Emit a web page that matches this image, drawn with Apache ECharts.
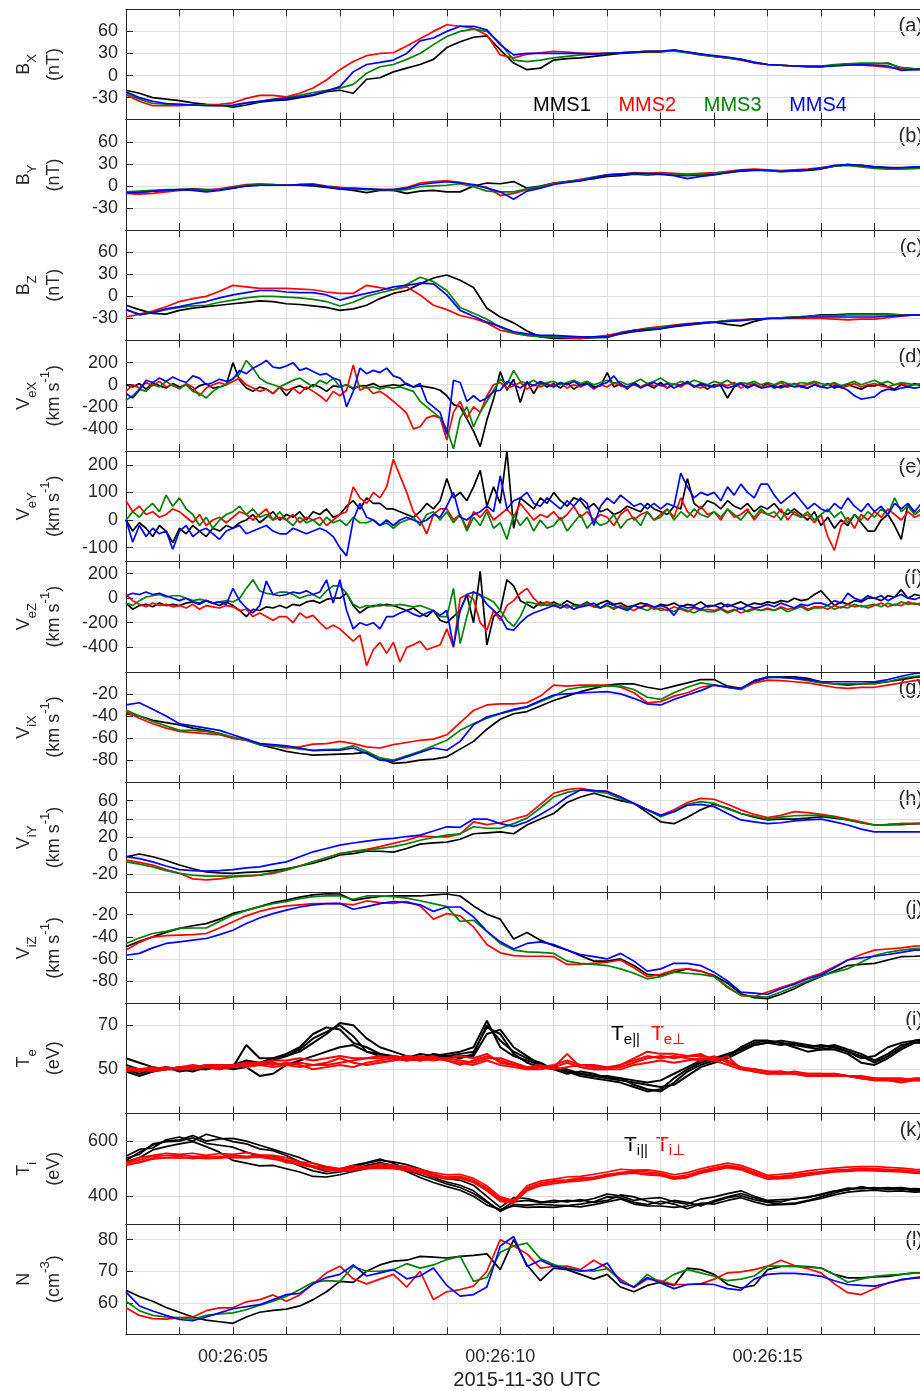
<!DOCTYPE html>
<html>
<head>
<meta charset="utf-8">
<script src="https://cdn.jsdelivr.net/npm/echarts@6/dist/echarts.min.js"></script>
<style>
html,body{margin:0;padding:0;background:#fff}
#chart{width:920px;height:1391px}
</style>
</head>
<body>
<div id="chart"></div>
<script>
// ---- time base (seconds after 00:26:00 UTC) ----
const T_START = 3;
const STEP_COARSE = 0.25;   // B, Vi, T, N panels
const STEP_FINE = 0.125;    // electron velocity panels
const timeTickLabels = [5, 10, 15];

// ---- tick values per panel ----
const bTicks = [-30, 0, 30, 60];
const vexTicks = [-400, -200, 0, 200];
const veyTicks = [-100, 0, 100, 200];
const vezTicks = [-400, -200, 0, 200];
const vixTicks = [-80, -60, -40, -20];
const viyTicks = [-20, 0, 20, 40, 60];
const vizTicks = [-80, -60, -40, -20];
const teTicks = [50, 70];
const tiTicks = [400, 600];
const nTicks = [60, 70, 80];

// ---- magnetic field (nT), 0.25 s ----
const bxMms1 = [-20,-24,-30,-32, -34,-37,-39,-40, -43,-40,-36,-34, -33,-30,-27,-22, -20,-24,-5,-3, 5,10,15,22, 38,46,52,54, 35,17,8,10, 21,23,24,26, 28,30,31,32, 32,34,32,29, 26,24,22,18, 15,14,13,12, 12,14,16,16, 16,17,10,9, 9];
const bxMms2 = [-26,-35,-41,-41, -41,-40,-40,-39, -37,-31,-27,-27, -29,-24,-17,-6, 8,19,27,30, 31,40,50,60, 69,67,64,55, 28,24,29,31, 33,32,30,30, 30,31,32,33, 33,34,31,28, 26,24,21,17, 15,14,13,13, 12,14,14,14, 13,11,9,8, 8];
const bxMms3 = [-24,-32,-38,-39, -39,-40,-40,-41, -41,-37,-35,-32, -30,-27,-23,-20, -17,-12,3,12, 15,22,30,42, 53,60,63,60, 44,21,19,21, 24,26,28,29, 30,31,32,33, 33,33,31,28, 26,24,22,18, 15,14,13,13, 13,15,16,17, 17,16,11,9, 9];
const bxMms4 = [-22,-30,-35,-38, -39,-40,-41,-41, -40,-37,-35,-33, -31,-29,-26,-21, -15,5,15,18, 21,30,47,51, 60,67,67,62, 42,28,30,30, 30,30,30,29, 30,31,32,33, 33,35,32,29, 27,25,22,18, 15,14,13,12, 12,13,14,15, 14,13,7,8, 9];

const byMms1 = [-8,-8,-7,-6, -5,-4,-5,-5, -3,0,1,1, 1,1,0,-2, -4,-6,-9,-6, -6,-10,-7,-6, -8,-8,0,4, 3,6,-3,0, 4,6,8,10, 13,14,16,15, 16,15,14,15, 16,18,20,21, 21,20,20,21, 23,27,29,28, 26,25,24,25, 25];
const byMms2 = [-10,-11,-10,-8, -6,-5,-6,-4, -1,2,3,2, 1,2,3,0, -2,-4,-4,-5, -5,-2,4,6, 7,5,1,-2, -13,-10,-5,-1, 4,6,9,12, 15,16,18,17, 18,17,16,17, 18,20,22,23, 22,21,22,23, 25,27,29,28, 25,24,24,24, 24];
const byMms3 = [-8,-7,-6,-5, -5,-5,-6,-5, -2,1,2,2, 1,2,2,-1, -3,-4,-5,-5, -6,-5,-1,0, 1,3,-1,-7, -8,-8,-4,-1, 3,6,8,12, 15,16,17,16, 17,16,15,16, 17,19,21,22, 21,19,20,22, 24,27,28,26, 24,23,23,24, 25];
const byMms4 = [-9,-9,-7,-6, -5,-6,-8,-6, -3,0,1,1, 1,2,2,-1, -4,-3,-4,-5, -5,-3,2,4, 6,4,2,-3, -8,-18,-7,-3, 2,5,7,11, 15,16,17,17, 16,14,10,13, 15,18,21,22, 21,20,21,22, 24,28,29,28, 26,25,25,26, 26];

const bzMms1 = [-12,-18,-23,-24, -19,-16,-14,-12, -10,-8,-6,-7, -10,-11,-13,-15, -19,-17,-12,-3, 4,8,17,25, 29,22,12,-16, -28,-36,-47,-55, -57,-57,-57,-56, -55,-51,-48,-46, -44,-41,-39,-37, -35,-38,-40,-34, -30,-29,-28,-27, -25,-25,-24,-24, -24,-24,-25,-25, -25];
const bzMms2 = [-28,-24,-20,-14, -7,-3,0,7, 15,13,11,11, 11,10,9,6, 4,4,15,12, 9,13,2,-12, -18,-26,-30,-36, -46,-50,-53,-54, -55,-56,-57,-55, -53,-49,-46,-43, -41,-39,-37,-36, -35,-33,-32,-31, -30,-30,-30,-30, -30,-31,-32,-31, -31,-29,-27,-25, -25];
const bzMms3 = [-18,-24,-22,-18, -15,-13,-12,-8, -5,-2,0,0, -1,-2,-4,-7, -13,-8,0,5, 9,16,26,20, 8,-15,-23,-31, -42,-50,-53,-55, -55,-55,-55,-56, -56,-50,-46,-44, -42,-40,-38,-36, -35,-33,-32,-31, -30,-29,-28,-27, -26,-26,-25,-25, -25,-25,-25,-25, -25];
const bzMms4 = [-18,-25,-22,-17, -14,-10,-7,-2, 2,5,8,8, 6,5,5,2, -5,0,4,8, 13,15,18,17, 2,-19,-27,-35, -41,-48,-51,-53, -53,-54,-55,-55, -55,-50,-46,-45, -44,-40,-38,-36, -35,-34,-33,-31, -30,-30,-29,-28, -28,-28,-28,-28, -28,-27,-26,-25, -25];

// ---- electron bulk velocity (km/s), 0.125 s ----
const vexMms1 = [0,-20,10,-40,20,-10,-30,10, -20,0,-50,-10,10,-30,-20,0, 200,40,-30,-60,-20,-40,-80,-20, -100,-30,-10,-40,0,-20,-60,-10, -20,0,-40,-10,-10,10,-20,-10, 0,-10,10,-20,-10,-20,-30,-50, -100,-180,-200,-310,-420,-560,-320,-130, 120,-50,50,-160,30,-80,20,-20, 10,-30,20,-40,0,30,-20,-10, 110,-20,10,-40,20,-20,0,-30, 20,-30,10,-10,30,-20,0,-40, 0,-10,-120,-20,10,-30,0,-20, 10,-30,-10,-20,10,-20,-30,0, -20,10,-30,-10,0,-20,-40,-10, -10,10,-20,-40,0,-20,10,-10, 0];
const vexMms2 = [-60,0,-30,20,-10,30,-20,0, -40,10,-20,-100,-30,0,20,0, 30,60,0,-30,-60,-40,-80,-20, -50,-30,-80,-20,-60,-100,-150,-60, -100,-50,180,-50,-20,-80,-60,-100, -150,-200,-260,-400,-380,-300,-280,-300, -500,-250,-150,-300,-200,-250,-100,0, 20,-30,-10,20,-40,0,-20,10, -10,20,-30,0,-20,10,-40,0, -20,20,-10,-30,0,-20,10,-10, 0,-30,10,-20,20,-10,-30,0, -20,10,-10,20,-30,0,10,-20, 0,-10,20,-20,10,-10,0,20, -20,0,10,-30,-10,10,-20,0, 10,-10,-20,0,10,-10,0,10, 0];
const vexMms3 = [-140,-100,-40,-60,0,-20,30,-10, -30,0,-60,-80,-120,-60,-20,0, 60,100,220,150,60,20,0,-20, 10,40,60,20,-20,40,10,60, -20,0,-30,-10,-30,-20,-40,-20, -30,-20,-40,-60,-150,-200,-250,-300, -400,-580,-300,-200,-380,-250,-150,-50, 50,0,130,30,10,40,0,20, 30,0,20,40,10,30,0,20, 40,10,30,0,20,50,10,30, 60,20,0,30,10,40,20,0, 30,10,40,0,20,10,30,0, 20,0,30,10,0,20,10,30, 10,0,20,-10,10,30,0,20, 40,10,30,0,20,10,0,10, 10];
const vexMms4 = [-80,-120,-50,40,20,60,30,70, 40,20,80,60,0,20,50,30, 50,130,100,150,180,220,160,150, 170,200,130,150,120,90,100,60, 40,-200,-60,150,100,130,110,150, 80,60,0,-20,10,-150,-200,-250, -450,40,20,-150,-100,-150,-120,-60, -50,30,0,-30,20,-10,30,0, -20,20,0,30,-10,10,-30,0, 20,80,0,-20,10,-30,0,20, -10,10,-30,0,20,-20,10,-10, -20,0,-30,-10,10,-20,0,-30, -20,-10,-30,0,-20,-10,-30,0, -20,-30,-10,-20,-50,-100,-130,-120, -110,-60,-40,-50,-30,-20,-30,-20, -20];

const veyMms1 = [0,-40,-10,-30,-60,-20,-40,-82, -30,-50,-20,-40,-60,-30,-40,-20, -30,-10,0,20,-10,10,30,0, 20,10,30,0,30,20,40,10, 20,50,70,40,80,60,60,40, 40,30,20,10,30,60,40,70, 150,80,100,70,120,180,50,120, 60,250,-30,80,60,40,80,60, 100,70,50,80,70,40,60,30, 40,20,30,50,40,30,60,40, 30,20,50,40,150,60,40,70, 60,40,70,50,40,60,30,50, 40,60,30,20,40,20,0,30, -20,10,-30,0,-20,20,-10,-40, -40,0,20,-20,-70,60,20,40, 20];
const veyMms2 = [70,30,50,20,30,10,20,40, 30,10,-10,20,-20,0,10,-10, 10,30,20,0,20,40,0,10, 0,20,-10,10,0,10,-20,0, 20,30,120,80,60,100,80,120, 220,160,100,30,0,-50,20,40, 40,0,20,-30,30,10,40,0, 20,40,10,60,30,0,20,10, 30,0,20,50,10,30,0,20, 10,-20,20,40,0,20,30,0, 20,40,10,80,30,10,50,20, 30,0,40,10,20,40,0,30, 20,10,40,0,30,10,20,-10, 20,-60,-110,-20,10,-30,20,0, 30,10,40,20,0,30,10,20, 20];
const veyMms3 = [0,30,10,40,60,30,90,50, 80,40,20,-20,10,-30,0,20, 30,50,20,40,10,20,0,30, 0,-20,10,-10,0,-20,10,-10, 0,-20,10,-10,-10,0,-20,-10, -30,-10,0,10,-20,20,30,0, 30,-10,20,-40,10,-20,30,-30, -10,-70,20,-20,10,-40,0,-30, -20,10,-40,-10,20,-30,0,-20, -10,20,-30,0,10,-20,30,0, 10,40,0,30,10,40,20,10, 30,10,40,20,0,30,10,40, 20,30,0,40,20,10,30,0, 20,40,10,30,-10,20,0,30, 10,40,20,80,30,50,20,40, 30];
const veyMms4 = [0,-80,-20,-60,-30,-50,-40,-106, -40,-20,-60,-40,-30,-50,-70,-40, -30,-20,-50,-40,-30,-20,-40,-50, -50,-30,-40,-50,-40,-30,-40,-60, -100,-130,0,60,10,0,-20,0, -20,0,10,0,-10,0,20,10, 50,100,10,0,20,30,50,30, 160,40,70,80,100,60,50,80, 60,40,70,50,80,60,-20,50, 80,60,90,70,50,60,40,60, 40,60,50,170,120,80,100,90, 100,70,120,90,130,100,80,130, 130,90,60,80,100,70,40,60, 40,30,60,40,80,50,30,60, 30,50,20,60,40,60,30,60, 60];

const vezMms1 = [-40,-90,-60,-50,-70,-40,-60,-50, -60,-40,-30,-50,-20,-40,-60,-30, -60,-100,-150,-90,-100,-70,-80,-60, -80,-50,-60,-30,-20,-40,-10,0, 0,40,-60,-120,-80,-60,-60,-50, -60,-80,-100,-80,-120,-150,-100,-180, -200,-150,-100,30,-200,220,-380,-150, -100,150,100,-20,-50,-80,-30,-60, -30,-60,-20,-50,-60,-30,-70,-40, -20,-50,-40,-70,-60,-40,-50,-80, -50,-60,-40,-70,-50,-60,-30,-70, -60,-40,-70,-50,-30,-60,-40,-50, -30,-40,-20,-30,0,-20,-10,30, 60,0,-60,-30,-50,-20,-30,0, 0,-20,20,10,70,0,30,20, 20];
const vezMms2 = [30,-20,-50,-70,-40,-60,-50,-70, -60,-80,-50,-90,-60,-70,-80,-60, -70,-100,-90,-150,-120,-150,-180,-150, -150,-200,-120,-160,-140,-200,-250,-220, -250,-300,-350,-300,-550,-420,-360,-450, -360,-520,-400,-380,-350,-420,-400,-380, -250,-400,0,30,-10,-200,-260,-100, -180,-60,-20,40,80,0,-50,-30, -50,-80,-60,-90,-60,-50,-70,-80, -60,-90,-60,-80,-100,-70,-60,-90, -80,-100,-70,-90,-110,-80,-100,-90, -100,-80,-110,-90,-120,-100,-80,-100, -80,-100,-70,-90,-80,-60,-90,-70, -70,-90,-60,-80,-50,-70,-60,-80, -60,-40,-70,-50,-60,-30,-50,-40, -40];
const vezMms3 = [-40,-60,-20,10,20,30,10,20, 20,0,-20,-10,-20,-40,-30,-20, -30,0,80,150,60,40,30,50, 50,30,0,20,30,0,60,100, 100,40,-50,-80,-60,-70,-50,-60, -60,-50,-60,-70,-60,-80,-100,-150, -150,80,-370,-150,50,20,0,-30, -100,-180,-230,-150,-30,-40,-60,-50, -60,-50,-80,-60,-70,-40,-60,-80, -60,-80,-70,-90,-60,-80,-100,-70, -100,-90,-110,-80,-100,-120,-90,-110, -110,-90,-120,-100,-80,-110,-90,-100, -90,-100,-80,-110,-90,-70,-100,-80, -80,-60,-90,-70,-80,-50,-70,-60, -50,-70,-40,-60,-30,-50,-40,-60, -40];
const vezMms4 = [20,40,30,50,30,40,20,0, -20,0,-30,-40,-20,-40,-30,-50, 80,-20,-80,-120,-60,140,30,20, 30,50,40,60,30,50,150,-40, 150,-100,-250,-200,-220,-200,-250,-150, -150,-120,-100,-130,-150,-120,-100,-140, -100,-395,-100,30,50,30,-50,-100, -150,-250,-260,-200,-150,-120,-100,-80, -60,-80,-50,-90,-70,-60,-40,-80, -40,-60,-80,-100,-60,-80,-50,-70, -60,-80,-140,-60,-80,-70,-90,-60, -60,-80,-50,-70,-90,-60,-80,-70, -50,-70,-40,-60,-80,-50,-60,-40, -40,-60,-20,-40,40,0,-20,20, 0,20,-20,10,30,0,-10,10, 0];

// ---- ion bulk velocity (km/s), 0.25 s ----
const vixMms1 = [-38,-40,-44,-46, -48,-51,-53,-56, -60,-62,-66,-69, -72,-74,-75.5,-75, -74.5,-74,-73,-78, -83,-82,-80,-79, -77,-70,-63,-52, -43,-38,-36,-31, -26,-22,-18,-15, -12,-11,-11,-14, -16,-13,-10,-7, -7,-13,-15,-9, -5,-4.5,-4.5,-6, -9,-11,-12,-11, -10,-9,-7,-5, -4];
const vixMms2 = [-36,-42,-47,-51, -54,-55,-56,-57, -60,-62,-65,-67, -69,-68,-65.5,-65, -63,-65,-68,-69, -66,-64,-62,-61, -57,-46,-35,-30, -29,-29,-28,-22, -12,-13,-12,-12, -12,-14,-19,-28, -27,-22,-19,-14, -12,-14,-16,-10, -7.5,-8,-9,-10, -12,-14,-15,-14, -14,-12,-10,-8, -7];
const vixMms3 = [-34.5,-40,-45,-49, -53,-53,-54,-56, -59,-62,-66,-67, -68,-70,-71,-70.5, -70,-67,-72,-78, -80,-76,-72,-67, -62,-53,-47,-42, -38,-35,-32,-27, -22,-16,-14,-13, -13,-13,-16,-23, -25,-19,-14,-10, -11.7,-14,-16,-8, -4.5,-5,-6,-8, -10,-11,-11,-11, -11,-9,-6,-4, -3];
const vixMms4 = [-30,-28,-34,-40, -47,-49,-51,-53, -57,-61,-65,-66, -67,-69,-71.5,-71, -71,-69,-74,-80, -81,-77,-73,-69, -71,-63,-48,-41, -37.6,-34,-31.5,-26, -21,-20,-19,-18.5, -18,-20,-24,-29, -30,-25,-21,-17, -12,-14,-15,-8, -5,-5,-6,-7, -9,-9,-9,-9, -9,-7,-4,-1.5, -1];

const viyMms1 = [-1,2,-1,-5, -10,-14,-17.5,-18.5, -19,-18,-17.5,-16, -14,-11,-8,-4, 1,2.5,5,5, 4,8,12.7,14, 15,18,24,25, 26,24,33.5,40, 46,58,64,68, 64,60,57,47, 37,35,42,50, 56,52,46,42, 39,40,40,41, 42.5,41,39,36, 33.5,34,34,35, 35];
const viyMms2 = [-4.7,-7,-10,-15, -19,-25,-26,-25, -23,-22,-21,-19, -15.6,-11,-6.5,-2, 2.5,5,7,10, 13.5,17,21.5,21, 20.7,23.6,37,34, 36,40,44,56, 68,72,73.5,71, 70,64,57,50, 44,50,58,62.5, 61.5,56,50,45, 41.5,44,48,47, 45,43,40,37, 33.5,34,35,35, 35];
const viyMms3 = [-6.5,-9,-12,-16, -19,-21,-22,-22, -22,-21.5,-21,-18, -15,-11,-6.5,-2, 2.5,4.5,6,8, 10,13,17,20, 22.5,24,31.6,30, 30,35,41,52, 64,69,71.6,70, 68,62,57,50, 42.5,48,56,59, 57,51,46,43, 40,42,43.6,44, 44,42,39,36, 33.5,34,35,35, 36];
const viyMms4 = [-1,-3,-6.5,-11, -15,-16,-16.7,-16, -15,-13,-12,-9, -6.5,-1,4.4,8, 11.6,14,16,18, 19,21,22.5,27, 31.6,31,40,40, 35,32,37,45, 53.5,64,71.6,71, 70,64,57,50, 44,48,55,56, 53.5,46,39,37, 35,36,38,39, 40,37,33.5,29, 26,26,26,26, 26];

const vizMms1 = [-49,-44,-40,-36, -32.4,-30,-28,-24, -18.8,-16,-12.7,-9, -6.7,-4,-2,-1, -1.2,-7,-5,-3.5, -3,-3,-3,-2, -1.2,-3,-12,-19.5, -24,-42,-36,-43, -48,-52,-57,-62, -62,-60,-66,-74, -75,-72,-69,-71, -75,-82,-91.5,-95, -96,-92,-87,-81, -76,-71,-66,-65, -64,-61,-58,-57.6, -57];
const vizMms2 = [-52,-45,-40,-39, -38.5,-38,-37,-32, -26.4,-21,-17,-14, -12,-11,-10,-10, -10,-11,-7.5,-9, -9.7,-8,-12,-24, -19,-21,-31,-47, -54.5,-57,-57.6,-57.6, -58,-65,-65,-64, -63,-61,-68,-76, -74,-70,-69,-71, -76,-86,-93,-94, -90,-86,-82,-77, -73,-67,-61,-56, -52,-51,-50,-48.5, -48];
const vizMms3 = [-46,-41,-37,-35, -32.4,-32,-32,-26, -20.3,-16,-12.7,-10, -8,-5.5,-3.6,-3, -3,-6,-3,-3, -3.6,-5,-7.3,-10, -12.7,-26,-25,-35, -46,-52,-53.6,-54, -55,-62,-64,-65, -66,-69,-73,-78, -76,-72,-73,-74, -76,-85,-93,-94, -94.5,-90,-85,-80, -75.5,-72,-69,-63, -57,-54,-52,-50.6, -50];
const vizMms4 = [-56.7,-55,-50,-46, -44.5,-43,-41.5,-38, -34,-28,-23,-19, -15.8,-13,-11,-10, -9.7,-15,-12.7,-10, -8,-9,-11,-17, -13,-13,-22,-35, -44.5,-51,-46,-44.5, -47,-52,-56,-58, -60,-55,-62,-71, -69,-64,-64,-66, -72,-80,-90,-91, -92,-87,-83,-78, -74.5,-68,-61,-59, -57.6,-56,-54,-52, -52];

// ---- electron temperature (eV), 0.25 s: parallel and perpendicular, MMS1-4 ----
const teParMms1 = [55,53,51,50, 51,50,52,51, 52,54,53,55, 56,58,62,66, 71,70,64,60, 58,56,55,56, 57,58,60,72, 60,56,54,52, 51,49,48,47, 47,46,45,44, 45,48,51,54, 55,56,59,62, 63,62,61,60, 61,60,58,55, 56,60,62,63, 64];
const teParMms2 = [52,50,49,50, 50,51,50,52, 51,61,55,55, 57,60,66,69, 68,62,60,57, 56,55,57,56, 56,55,57,70, 63,58,55,53, 50,48,49,48, 46,45,44,43, 42,43,47,51, 53,55,58,61, 62,61,62,61, 60,61,59,57, 54,57,61,62, 62];
const teParMms3 = [50,48,50,51, 50,49,51,50, 52,53,52,54, 56,59,64,67, 70,65,58,56, 55,54,55,57, 56,57,58,69, 66,57,53,51, 50,50,48,47, 46,46,43,41, 40,44,49,52, 54,56,60,63, 63,62,60,58, 59,59,57,53, 52,55,59,62, 63];
const teParMms4 = [49,47,49,51, 49,50,50,51, 50,51,47,48, 52,54,56,58, 60,61,58,57, 55,55,54,55, 55,56,56,66, 68,60,56,52, 51,49,47,46, 45,44,42,40, 41,46,50,53, 55,57,59,61, 62,63,62,60, 59,60,58,56, 53,56,60,63, 63];
const tePerpMms1 = [50,50,51,50, 51,51,52,52, 52,53,53,54, 54,55,54,55, 56,55,55,55, 56,55,56,55, 55,56,55,57, 53,52,50,50, 51,57,51,50, 50,52,55,58, 57,57,56,57, 54,56,50,49, 48,48,48,47, 47,47,47,46, 45,45,45,45, 45];
const tePerpMms2 = [49,50,50,51, 50,51,51,52, 51,52,52,53, 52,53,52,52, 53,54,55,56, 55,56,55,54, 55,54,53,55, 55,53,51,51, 52,54,52,51, 51,51,53,55, 56,55,56,56, 55,54,51,50, 49,49,48,48, 48,47,47,47, 46,46,46,45, 45];
const tePerpMms3 = [50,49,50,50, 50,50,51,51, 52,51,52,51, 52,51,52,53, 55,53,52,53, 54,55,54,55, 54,53,52,54, 52,51,50,51, 51,53,51,50, 50,50,52,53, 54,53,54,55, 54,52,50,50, 49,48,49,48, 48,48,47,46, 45,45,44,45, 45];
const tePerpMms4 = [51,50,49,50, 51,52,51,50, 51,52,53,52, 53,52,50,51, 52,51,53,54, 55,54,55,56, 54,52,54,56, 54,52,51,52, 50,51,52,52, 51,52,54,56, 55,56,55,54, 56,53,51,49, 48,49,48,47, 47,48,47,46, 46,45,45,46, 46];

// ---- ion temperature (eV), 0.25 s ----
const tiParMms1 = [530,560,585,600, 605,620,600,608, 610,600,585,570, 555,540,520,505, 495,505,520,530, 525,515,500,480, 465,458,440,400, 360,395,392,380, 378,385,382,392, 408,402,385,392, 395,380,372,390, 398,410,420,400, 385,388,390,398, 405,418,430,428, 432,425,428,420, 425];
const tiParMms2 = [545,570,575,605, 615,600,625,612, 598,590,572,565, 548,525,505,490, 500,512,522,535, 520,500,488,468, 452,440,420,382, 345,370,368,372, 368,366,372,380, 398,395,378,370, 382,372,355,372, 380,395,402,388, 378,372,375,385, 398,412,425,430, 428,432,425,428, 426];
const tiParMms3 = [538,552,590,598, 600,612,592,585, 578,560,545,545, 530,510,492,482, 488,495,512,522, 512,495,478,462, 445,432,410,378, 350,380,385,378, 385,380,388,378, 385,405,398,382, 372,385,378,365, 385,398,410,395, 382,380,392,395, 408,420,422,435, 425,430,432,425, 428];
const tiParMms4 = [525,540,568,580, 590,598,580,560, 530,520,510,512, 500,488,472,470, 478,490,500,512, 508,490,468,450, 435,422,400,368, 352,365,360,362, 360,365,362,370, 380,390,372,365, 365,360,365,375, 372,385,395,380, 368,370,372,382, 392,405,415,420, 422,418,420,415, 418];
const tiPerpMms1 = [522,540,548,556, 552,556,548,555, 552,558,550,548, 540,525,520,508, 500,510,508,518, 512,508,498,486, 478,480,465,438, 398,385,438,455, 462,470,472,480, 488,498,495,496, 490,478,486,500, 510,520,512,495, 476,480,484,492, 498,502,506,508, 508,505,502,498, 496];
const tiPerpMms2 = [512,525,538,540, 538,540,536,538, 542,540,542,535, 526,514,506,495, 490,495,500,502, 500,494,485,472, 462,465,450,420, 382,376,420,438, 446,452,456,462, 472,480,484,478, 475,462,468,484, 494,504,496,478, 462,464,468,476, 482,488,490,494, 492,490,488,484, 482];
const tiPerpMms3 = [520,532,545,548, 550,545,546,542, 548,545,548,542, 532,522,510,502, 498,500,506,510, 508,502,492,480, 470,472,458,430, 392,382,430,448, 456,460,466,470, 480,486,492,488, 484,470,478,492, 503,512,505,488, 470,472,478,484, 490,495,498,502, 500,498,495,492, 490];
const tiPerpMms4 = [515,522,535,540, 545,536,542,545, 540,540,544,540, 522,518,508,498, 495,498,502,505, 504,500,488,478, 466,468,452,425, 388,378,425,442, 452,455,462,465, 476,484,486,482, 480,466,472,488, 498,508,500,483, 468,468,474,480, 486,492,495,496, 496,494,492,486, 485];

// ---- ion density (cm^-3), 0.25 s ----
const nMms1 = [64,62,60.5,58.5, 57,55.5,54.5,54, 53.5,55.5,57,57.6, 58,59,61,63.5, 66.8,66.5,70,72, 73.2,73.5,74.7,74.5, 74.2,74.7,75,75.5, 70.5,80,72,67, 71,70.5,69,67.5, 69,65,63.5,65.5, 66.5,65.5,71,70.5, 69,65.8,64.7,65.5, 70.5,71.5,71.6,71.5, 71,69,67.9,67.9, 68.2,68.4,69,69.5, 69.5];
const nMms2 = [58.4,56,55,54.8, 55.3,55.5,57.5,58.4, 58.4,60.3,61,62.5, 60.5,62.5,66,69.5, 71.6,67.6,66,67.5, 69,65,70,61, 63.5,64.2,65.3,70, 80,78,75.5,71, 71.5,71.6,70.5,73.5, 71,67.5,64.8,67.5, 67,65.8,65.8,66, 67.5,69.5,69.8,70.5, 71.6,73.5,71.8,70.8, 69.5,66,63.2,62.6, 64.5,66.3,67.2,68, 68.5];
const nMms3 = [60.5,57.5,56,55.5, 55.3,54.8,56,56.5, 56.8,57.8,59.2,60.5, 62,64.2,66.5,67, 66.8,71.5,70,70, 70.5,72.4,71,72, 73.7,74.7,66.8,68, 76,78,78.9,74, 72.1,71,70.3,70, 70.8,67,65,69, 66.3,69,70.5,69.5, 68.4,67,67.5,68.5, 71.6,71.6,71.6,71.3, 71,69,66.5,67.5, 68.4,68.8,69,69.5, 69.5];
const nMms4 = [63.4,59,57.4,56, 54.7,54.3,55.5,56.8, 58.1,58.8,59.4,61, 62.6,63,66,68, 69,72,68.5,69.5, 70.5,67.6,68.5,71, 65.5,62.1,62.6,65, 78,81,71.5,73.5, 71.6,70.8,70,70.5, 72.6,66.5,65,68, 66.3,64.5,65.8,66, 65.8,64.5,64,67.5, 69,69.3,69.3,69, 68.4,67,65.8,65.5, 65.3,66.2,67.4,67.8, 68];

// ---- drawing ----
const FONT = '"Liberation Sans", Arial, Helvetica, sans-serif';
const INK = '#262626';
const GRID_LINE = '#dedede';
const C1 = '#000000', C2 = '#ff0000', C3 = '#008000', C4 = '#0000ff';
const LEFT = 126, PLOT_W = 802, TOP0 = 9.3, PANEL_H = 110.42;

const mms = (a, b, c, d) => [
  { name: 'MMS1', values: a, color: C1 },
  { name: 'MMS2', values: b, color: C2 },
  { name: 'MMS3', values: c, color: C3 },
  { name: 'MMS4', values: d, color: C4 }
];
const temps = (par, perp, label) => [
  ...par.map((v, k) => ({ name: label + '∥ MMS' + (k + 1), values: v, color: C1 })),
  ...perp.map((v, k) => ({ name: label + '⊥ MMS' + (k + 1), values: v, color: C2 }))
];

const panels = [
  { tag: '(a)', label: '{m|B}{s|X}\n{m|(nT)}', min: -60, max: 90, ticks: bTicks, step: STEP_COARSE, lines: mms(bxMms1, bxMms2, bxMms3, bxMms4) },
  { tag: '(b)', label: '{m|B}{s|Y}\n{m|(nT)}', min: -60, max: 90, ticks: bTicks, step: STEP_COARSE, lines: mms(byMms1, byMms2, byMms3, byMms4) },
  { tag: '(c)', label: '{m|B}{s|Z}\n{m|(nT)}', min: -60, max: 90, ticks: bTicks, step: STEP_COARSE, lines: mms(bzMms1, bzMms2, bzMms3, bzMms4) },
  { tag: '(d)', label: '{m|V}{s|eX}\n{m|(km s}{p|-1}{m|)}', min: -600, max: 400, ticks: vexTicks, step: STEP_FINE, lines: mms(vexMms1, vexMms2, vexMms3, vexMms4) },
  { tag: '(e)', label: '{m|V}{s|eY}\n{m|(km s}{p|-1}{m|)}', min: -150, max: 250, ticks: veyTicks, step: STEP_FINE, lines: mms(veyMms1, veyMms2, veyMms3, veyMms4) },
  { tag: '(f)', label: '{m|V}{s|eZ}\n{m|(km s}{p|-1}{m|)}', min: -600, max: 300, ticks: vezTicks, step: STEP_FINE, lines: mms(vezMms1, vezMms2, vezMms3, vezMms4) },
  { tag: '(g)', label: '{m|V}{s|iX}\n{m|(km s}{p|-1}{m|)}', min: -100, max: 0, ticks: vixTicks, step: STEP_COARSE, lines: mms(vixMms1, vixMms2, vixMms3, vixMms4) },
  { tag: '(h)', label: '{m|V}{s|iY}\n{m|(km s}{p|-1}{m|)}', min: -40, max: 80, ticks: viyTicks, step: STEP_COARSE, lines: mms(viyMms1, viyMms2, viyMms3, viyMms4) },
  { tag: '(j)', label: '{m|V}{s|iZ}\n{m|(km s}{p|-1}{m|)}', min: -100, max: 0, ticks: vizTicks, step: STEP_COARSE, lines: mms(vizMms1, vizMms2, vizMms3, vizMms4) },
  { tag: '(i)', label: '{m|T}{s|e}\n{m|(eV)}', min: 30, max: 80, ticks: teTicks, step: STEP_COARSE, width: 2,
    lines: temps([teParMms1, teParMms2, teParMms3, teParMms4], [tePerpMms1, tePerpMms2, tePerpMms3, tePerpMms4], 'Te') },
  { tag: '(k)', label: '{m|T}{s|i}\n{m|(eV)}', min: 300, max: 700, ticks: tiTicks, step: STEP_COARSE,
    lines: temps([tiParMms1, tiParMms2, tiParMms3, tiParMms4], [tiPerpMms1, tiPerpMms2, tiPerpMms3, tiPerpMms4], 'Ti') },
  { tag: '(l)', label: '{m|N}\n{m|(cm}{p|-3}{m|)}', min: 50, max: 85, ticks: nTicks, step: STEP_COARSE, lines: mms(nMms1, nMms2, nMms3, nMms4) }
];

const nameRich = {
  m: { fontSize: 18, lineHeight: 30, fontFamily: FONT, color: INK },
  s: { fontSize: 13, lineHeight: 13, verticalAlign: 'bottom', fontFamily: FONT, color: INK },
  p: { fontSize: 13, lineHeight: 13, verticalAlign: 'top', fontFamily: FONT, color: INK }
};
const fmtTime = v => '00:26:' + (v < 10 ? '0' : '') + v;

const grid = [], xAxis = [], yAxis = [], series = [], graphic = [];
panels.forEach((p, i) => {
  const last = i === panels.length - 1;
  const top = TOP0 + i * PANEL_H;
  grid.push({ left: LEFT, top: top, width: PLOT_W, height: PANEL_H, containLabel: false, outerBoundsMode: 'none' });
  xAxis.push({
    gridIndex: i, type: 'value', min: 3, max: 18, interval: 1, position: 'bottom',
    axisLine: { show: true, onZero: false, lineStyle: { color: INK, width: 1 } },
    axisTick: { show: true, inside: true, length: 7, lineStyle: { color: INK, width: 1 } },
    axisLabel: { show: last, customValues: timeTickLabels, formatter: fmtTime, fontSize: 18, color: INK, fontFamily: FONT, margin: 14 },
    splitLine: { show: true, lineStyle: { color: GRID_LINE, width: 1 } },
    name: last ? '2015-11-30 UTC' : '', nameLocation: 'middle', nameGap: 36,
    nameTextStyle: { fontSize: 20, color: INK, fontFamily: FONT }
  });
  xAxis.push({
    gridIndex: i, type: 'value', min: 3, max: 18, interval: 1, position: 'top',
    axisLine: { show: true, onZero: false, lineStyle: { color: INK, width: 1 } },
    axisTick: { show: true, inside: true, length: 7, lineStyle: { color: INK, width: 1 } },
    axisLabel: { show: false }, splitLine: { show: false }
  });
  yAxis.push({
    gridIndex: i, type: 'value', min: p.min, max: p.max, position: 'left',
    axisLine: { show: true, onZero: false, lineStyle: { color: INK, width: 1 } },
    axisTick: { show: true, inside: true, length: 7, customValues: p.ticks, lineStyle: { color: INK, width: 1 } },
    axisLabel: { customValues: p.ticks, fontSize: 18, color: INK, fontFamily: FONT, margin: 8 },
    splitLine: { show: true, lineStyle: { color: GRID_LINE, width: 1 } },
    name: p.label, nameLocation: 'middle', nameRotate: 90, nameGap: 57,
    nameTextStyle: { rich: nameRich }
  });
  p.lines.forEach(l => {
    series.push({
      type: 'line', name: l.name, xAxisIndex: 2 * i, yAxisIndex: i,
      data: l.values.map((v, k) => [T_START + k * p.step, v]),
      showSymbol: false, symbol: 'none', silent: true,
      lineStyle: { color: l.color, width: p.width || 1.7 }, itemStyle: { color: l.color },
      clip: true, animation: false
    });
  });
  graphic.push({
    type: 'text', x: 923, y: top + 17,
    style: { text: p.tag, align: 'right', verticalAlign: 'middle', fontSize: 20, fontFamily: FONT, fill: INK }
  });
});

// temperature component keys
const keyRich = (c) => ({
  m: { fontSize: 21, fontFamily: FONT, fill: c, lineHeight: 26 },
  s: { fontSize: 15, fontFamily: FONT, fill: c, lineHeight: 15, verticalAlign: 'bottom' }
});
graphic.push(
  { type: 'text', x: 611, y: TOP0 + 9 * PANEL_H + 31, style: { text: '{m|T}{s|e||}', rich: keyRich(C1), verticalAlign: 'middle' } },
  { type: 'text', x: 651, y: TOP0 + 9 * PANEL_H + 31, style: { text: '{m|T}{s|e⊥}', rich: keyRich(C2), verticalAlign: 'middle' } },
  { type: 'text', x: 624, y: TOP0 + 10 * PANEL_H + 32, style: { text: '{m|T}{s|i||}', rich: keyRich(C1), verticalAlign: 'middle' } },
  { type: 'text', x: 656, y: TOP0 + 10 * PANEL_H + 32, style: { text: '{m|T}{s|i⊥}', rich: keyRich(C2), verticalAlign: 'middle' } }
);

const chart = echarts.init(document.getElementById('chart'), null, { renderer: 'canvas' });
chart.setOption({
  animation: false,
  backgroundColor: '#ffffff',
  grid, xAxis, yAxis, series, graphic,
  legend: {
    data: [
      { name: 'MMS1', textStyle: { color: C1 } },
      { name: 'MMS2', textStyle: { color: C2 } },
      { name: 'MMS3', textStyle: { color: C3 } },
      { name: 'MMS4', textStyle: { color: C4 } }
    ],
    left: 523, top: 90, icon: 'none', itemWidth: 0, itemHeight: 14, itemGap: 22.6,
    textStyle: { fontSize: 20, fontFamily: FONT }
  }
});
</script>
</body>
</html>
